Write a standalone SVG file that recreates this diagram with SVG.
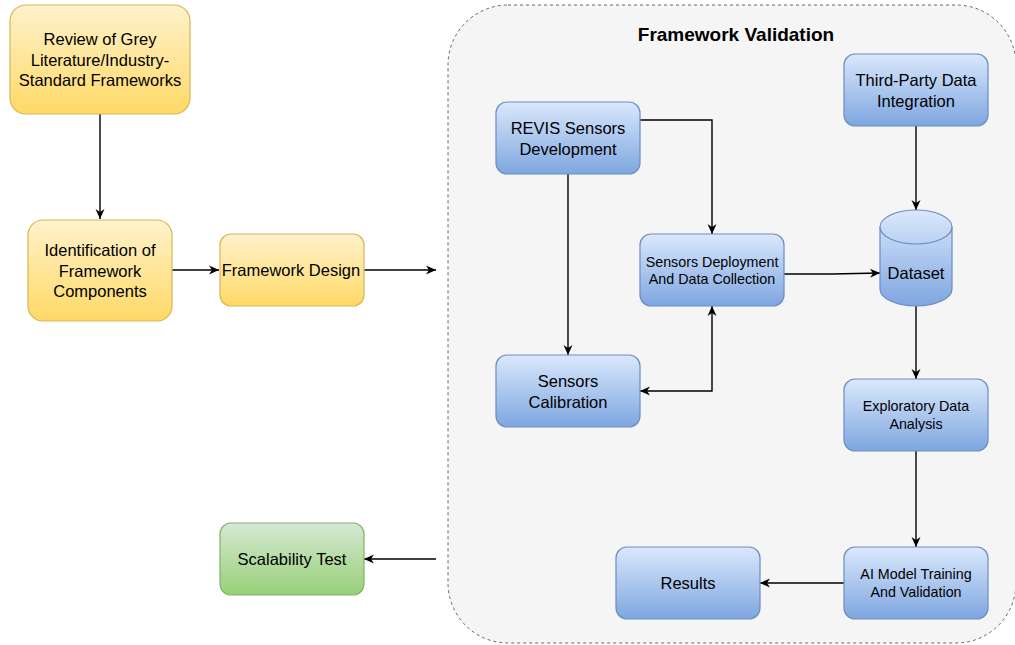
<svg xmlns="http://www.w3.org/2000/svg" width="1015" height="645" viewBox="0 0 1015 645">
<style>
  text { font-family: "Liberation Sans", Arial, Helvetica, sans-serif; fill: #000; text-anchor: middle; dominant-baseline: central; }
  .big { font-size: 16.5px; }
  .small { font-size: 14.3px; }
  .title { font-size: 19px; font-weight: bold; }
  .yel { fill: url(#gY); stroke: #d6b656; stroke-width: 1.2; }
  .blu { fill: url(#gB); stroke: #6c8ebf; stroke-width: 1.2; }
  .grn { fill: url(#gG); stroke: #82b366; stroke-width: 1.2; }
  .edge { fill: none; stroke: #000; stroke-width: 1.4; }
</style>
<defs>
  <linearGradient id="gY" x1="0" y1="0" x2="0" y2="1"><stop offset="0" stop-color="#fff2cc"/><stop offset="1" stop-color="#ffd966"/></linearGradient>
  <linearGradient id="gB" x1="0" y1="0" x2="0" y2="1"><stop offset="0" stop-color="#dae8fc"/><stop offset="1" stop-color="#7ea6e0"/></linearGradient>
  <linearGradient id="gG" x1="0" y1="0" x2="0" y2="1"><stop offset="0" stop-color="#d5e8d4"/><stop offset="1" stop-color="#97d077"/></linearGradient>
  <marker id="arr" viewBox="0 0 10 10" refX="10" refY="5" markerWidth="10" markerHeight="10" markerUnits="userSpaceOnUse" orient="auto-start-reverse">
    <path d="M0,0.5 L10,5 L0,9.5 L3,5 Z" fill="#000"/>
  </marker>
</defs>

<g id="container-framework-validation">
  <rect x="448" y="5" width="568" height="638" rx="60" ry="60" fill="#f5f5f5" stroke="#666" stroke-width="1" stroke-dasharray="3 3"/>
  <text class="title" x="736" y="34">Framework Validation</text>
</g>

<g id="connectors">
  <path class="edge" d="M100,114 L100,219" marker-end="url(#arr)"/>
  <path class="edge" d="M172,270 L219,270" marker-end="url(#arr)"/>
  <path class="edge" d="M364,270 L436,270" marker-end="url(#arr)"/>
  <path class="edge" d="M436,559 L364,559" marker-end="url(#arr)"/>
  <path class="edge" d="M640,120 L712,120 L712,234" marker-end="url(#arr)"/>
  <path class="edge" d="M568,174 L568,355" marker-end="url(#arr)"/>
  <path class="edge" d="M640,391 L712,391 L712,306" marker-start="url(#arr)" marker-end="url(#arr)"/>
  <path class="edge" d="M784,274 L832,274 L880,273" marker-end="url(#arr)"/>
  <path class="edge" d="M916,126 L916,210" marker-end="url(#arr)"/>
  <path class="edge" d="M916,306 L916,379" marker-end="url(#arr)"/>
  <path class="edge" d="M916,451 L916,547" marker-end="url(#arr)"/>
  <path class="edge" d="M844,583 L760,583" marker-end="url(#arr)"/>
</g>

<g id="node-review">
  <rect class="yel" x="10" y="5" width="180" height="109" rx="16"/>
  <text class="big" x="100" y="39">Review of Grey</text>
  <text class="big" x="100" y="59.5">Literature/Industry-</text>
  <text class="big" x="100" y="80">Standard Frameworks</text>
</g>
<g id="node-identification">
  <rect class="yel" x="28" y="220" width="144" height="101" rx="15"/>
  <text class="big" x="100" y="250">Identification of</text>
  <text class="big" x="100" y="270.5">Framework</text>
  <text class="big" x="100" y="291">Components</text>
</g>
<g id="node-framework-design">
  <rect class="yel" x="220" y="234" width="144" height="72" rx="11"/>
  <text class="big" x="291" y="270">Framework Design</text>
</g>
<g id="node-scalability">
  <rect class="grn" x="220" y="523" width="144" height="72" rx="11"/>
  <text class="big" x="292" y="559">Scalability Test</text>
</g>

<g id="node-revis">
  <rect class="blu" x="496" y="102" width="144" height="72" rx="11"/>
  <text class="big" x="568" y="128">REVIS Sensors</text>
  <text class="big" x="568" y="148.5">Development</text>
</g>
<g id="node-third-party">
  <rect class="blu" x="844" y="54" width="144" height="72" rx="11"/>
  <text class="big" x="916" y="80">Third-Party Data</text>
  <text class="big" x="916" y="100.5">Integration</text>
</g>
<g id="node-deployment">
  <rect class="blu" x="640" y="234" width="144" height="72" rx="11"/>
  <text class="small" x="712" y="261.5">Sensors Deployment</text>
  <text class="small" x="712" y="279">And Data Collection</text>
</g>
<g id="node-dataset">
  <path class="blu" d="M880,227 A36,17 0 0 1 952,227 L952,289 A36,17 0 0 1 880,289 Z"/>
  <path d="M880,227 A36,17 0 0 0 952,227" fill="none" stroke="#6c8ebf" stroke-width="1.2"/>
  <text class="big" x="916" y="273">Dataset</text>
</g>
<g id="node-calibration">
  <rect class="blu" x="496" y="355" width="144" height="72" rx="11"/>
  <text class="big" x="568" y="381">Sensors</text>
  <text class="big" x="568" y="401.5">Calibration</text>
</g>
<g id="node-eda">
  <rect class="blu" x="844" y="379" width="144" height="72" rx="11"/>
  <text class="small" x="916" y="406">Exploratory Data</text>
  <text class="small" x="916" y="423.5">Analysis</text>
</g>
<g id="node-ai-model">
  <rect class="blu" x="844" y="547" width="144" height="72" rx="11"/>
  <text class="small" x="916" y="574">AI Model Training</text>
  <text class="small" x="916" y="591.5">And Validation</text>
</g>
<g id="node-results">
  <rect class="blu" x="616" y="547" width="144" height="72" rx="11"/>
  <text class="big" x="688" y="583">Results</text>
</g>
</svg>
